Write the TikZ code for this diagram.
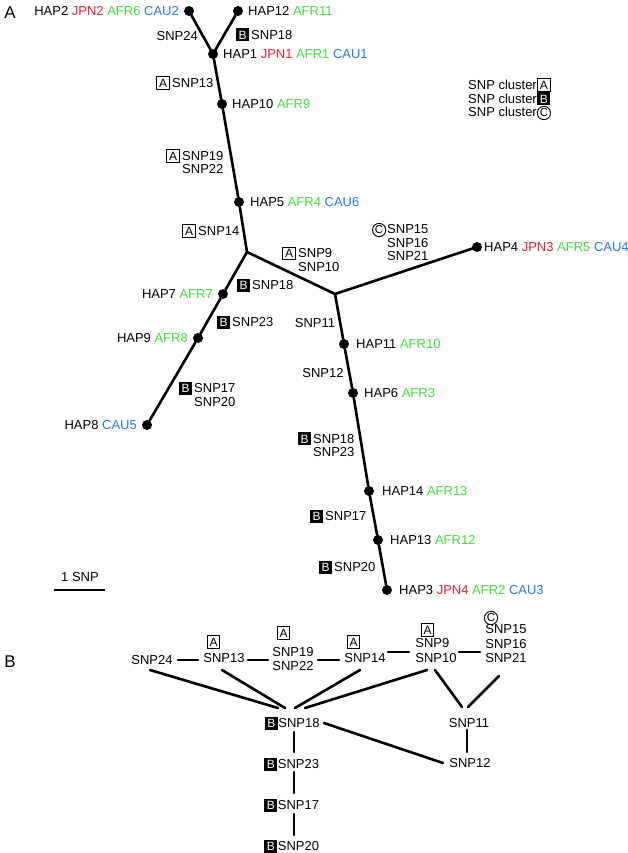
\documentclass[tikz,border=0pt]{standalone}
\usepackage{fontspec}
\setmainfont{Liberation Sans}
\usetikzlibrary{calc}
\definecolor{jpn}{RGB}{235,30,60}
\definecolor{afr}{RGB}{70,222,60}
\definecolor{cau}{RGB}{40,120,228}
\newcommand\J[1]{\textcolor{jpn}{#1}}
\newcommand\Af[1]{\textcolor{afr}{#1}}
\newcommand\Ca[1]{\textcolor{cau}{#1}}
\newcommand\mkA{\tikz[baseline=(mk.base)]\node[draw,line width=0.8pt,inner sep=0pt,minimum width=12.5pt,minimum height=12.5pt,font=\fontsize{12}{12}\selectfont](mk){A};}
\newcommand\mkB{\tikz[baseline=(mk.base)]\node[fill=black,text=white,inner sep=0pt,minimum width=13pt,minimum height=13pt,font=\fontsize{12}{12}\selectfont](mk){B};}
\newcommand\mkC{\tikz[baseline=(mk.base)]\node[draw,circle,line width=0.9pt,inner sep=0.6pt,font=\fontsize{11.5}{12}\selectfont](mk){C};}
\tikzset{
  dot/.style={circle,fill=black,inner sep=0pt,minimum size=10pt},
  lbl/.style={inner sep=0pt,font=\fontsize{13}{13.5}\selectfont,align=left},
  lblb/.style={inner sep=0pt,font=\fontsize{13}{14.5}\selectfont,align=left},
  link/.style={line width=2.6pt,line cap=round,line join=round},
  panel/.style={inner sep=0pt,font=\fontsize{17}{17}\selectfont},
}
\begin{document}
\begin{tikzpicture}[x=1pt,y=-1pt]
\useasboundingbox (0,0) rectangle (628,853);
% ---------- panel A ----------
\node[panel] (pA) at (10,13) {A};
\node[dot] (h2) at (189,11) {};
\node[dot] (h12) at (238,11) {};
\node[dot] (h1) at (213,54) {};
\node[dot] (h10) at (222,104) {};
\node[dot] (h5) at (239,202) {};
\coordinate (j1) at (247,252);
\coordinate (j2) at (335,294);
\node[dot] (h4) at (477,247) {};
\node[dot] (h7) at (223,294) {};
\node[dot] (h9) at (198,338) {};
\node[dot] (h8) at (147,425) {};
\node[dot] (h11) at (344,344) {};
\node[dot] (h6) at (353,393) {};
\node[dot] (h14) at (369,491) {};
\node[dot] (h13) at (378,540) {};
\node[dot] (h3) at (387,590) {};
\draw[link] (h2) -- (h1) -- (h12);
\draw[link] (h1) -- (h10) -- (h5) -- (j1);
\draw[link] (j1) -- (h7) -- (h9) -- (h8);
\draw[link] (j1) -- (j2) -- (h4);
\draw[link] (j2) -- (h11) -- (h6) -- (h14) -- (h13) -- (h3);
% haplotype labels
\node[lbl,anchor=east] (l2) at (179,11) {HAP2 \J{JPN2} \Af{AFR6} \Ca{CAU2}};
\node[lbl,anchor=west] (l12) at (248,11) {HAP12 \Af{AFR11}};
\node[lbl,anchor=west] (l1) at (223,54) {HAP1 \J{JPN1} \Af{AFR1} \Ca{CAU1}};
\node[lbl,anchor=west] (l10) at (232,104) {HAP10 \Af{AFR9}};
\node[lbl,anchor=west] (l5) at (250,202) {HAP5 \Af{AFR4} \Ca{CAU6}};
\node[lbl,anchor=west] (l4) at (484,247) {HAP4 \J{JPN3} \Af{AFR5} \Ca{CAU4}};
\node[lbl,anchor=east] (l7) at (213,294) {HAP7 \Af{AFR7}};
\node[lbl,anchor=east] (l9) at (188,338) {HAP9 \Af{AFR8}};
\node[lbl,anchor=east] (l8) at (137,425) {HAP8 \Ca{CAU5}};
\node[lbl,anchor=west] (l11) at (356,344) {HAP11 \Af{AFR10}};
\node[lbl,anchor=west] (l6) at (364,393) {HAP6 \Af{AFR3}};
\node[lbl,anchor=west] (l14) at (382,491) {HAP14 \Af{AFR13}};
\node[lbl,anchor=west] (l13) at (390,540) {HAP13 \Af{AFR12}};
\node[lbl,anchor=west] (l3) at (399,590) {HAP3 \J{JPN4} \Af{AFR2} \Ca{CAU3}};
% SNP labels
\node[lbl,anchor=east] (s24) at (198,36) {SNP24};
\node[lbl,anchor=west] (s18a) at (251,35) {\llap{\mkB\hspace{2pt}}SNP18};
\node[lbl,anchor=west] (s13) at (172,83) {\llap{\mkA\hspace{2.5pt}}SNP13};
\node[lbl,anchor=west] (s19) at (182,161.5) {\llap{\mkA\hspace{2.5pt}}SNP19\\SNP22};
\node[lbl,anchor=west] (s14) at (198,231) {\llap{\mkA\hspace{2.5pt}}SNP14};
\node[lbl,anchor=west] (s9) at (298,259) {\llap{\mkA\hspace{2.5pt}}SNP9\\SNP10};
\node[lbl,anchor=west] (s15) at (387,242) {\llap{\mkC\hspace{1pt}}SNP15\\SNP16\\SNP21};
\node[lbl,anchor=west] (s18b) at (252,285) {\llap{\mkB\hspace{2pt}}SNP18};
\node[lbl,anchor=west] (s23) at (232,322) {\llap{\mkB\hspace{2pt}}SNP23};
\node[lbl,anchor=west] (s17) at (194,394) {\llap{\mkB\hspace{2pt}}SNP17\\SNP20};
\node[lbl] (s11) at (315,323) {SNP11};
\node[lbl] (s12) at (323,373) {SNP12};
\node[lbl,anchor=west] (s18c) at (313,444.5) {\llap{\mkB\hspace{2pt}}SNP18\\SNP23};
\node[lbl,anchor=west] (s17b) at (325,516) {\llap{\mkB\hspace{2pt}}SNP17};
\node[lbl,anchor=west] (s20b) at (334,567) {\llap{\mkB\hspace{2pt}}SNP20};
% legend
\node[lbl,anchor=west] (kA) at (468,85) {SNP cluster\hspace{0.5pt}\mkA};
\node[lbl,anchor=west] (kB) at (468,99) {SNP cluster\hspace{0.5pt}\mkB};
\node[lbl,anchor=west] (kC) at (468,113) {SNP cluster\hspace{0pt}\mkC};
% scale bar
\node[lbl] (sc) at (80,577) {1 SNP};
\coordinate (sb1) at (54,590);
\coordinate (sb2) at (105,590);
\draw[line width=2.4pt] (sb1) -- (sb2);
% ---------- panel B ----------
\node[panel] (pB) at (10,662) {B};
\node[lbl] (b24) at (152,660) {SNP24};
\node[lbl] (b13) at (224,658) {SNP13};
\node[lbl] (m13) at (213.5,642) {\mkA};
\node[lblb] (b19) at (293,659) {SNP19\\SNP22};
\node[lbl] (m19) at (283.5,633) {\mkA};
\node[lbl] (b14) at (365,658) {SNP14};
\node[lbl] (m14) at (353.5,642) {\mkA};
\node[lblb] (b9) at (436,650.5) {SNP9\\SNP10};
\node[lbl] (m9) at (427.5,630) {\mkA};
\node[lblb] (b15) at (506,644) {SNP15\\SNP16\\SNP21};
\node[lbl] (m15) at (491,618) {\mkC};
\node[lbl] (b18) at (299,723) {\llap{\mkB\hspace{0.5pt}}SNP18};
\node[lbl] (b11) at (469,723) {SNP11};
\node[lbl] (b12) at (470,763) {SNP12};
\node[lbl] (b23) at (298.5,764) {\llap{\mkB\hspace{0.5pt}}SNP23};
\node[lbl] (b17) at (298.5,805) {\llap{\mkB\hspace{0.5pt}}SNP17};
\node[lbl] (b20) at (298.5,846) {\llap{\mkB\hspace{0.5pt}}SNP20};
% horizontal chain
\draw[link] ($(b24)+(26,0)$) -- ($(b13)+(-26,2)$);
\draw[link] ($(b13)+(24,2)$) -- ($(b19)+(-25,1)$);
\draw[link] ($(b19)+(25,1)$) -- ($(b14)+(-26,2)$);
\draw[link] ($(b14)+(23,-6)$) -- ($(b9)+(-27,1.5)$);
\draw[link] ($(b9)+(23,1.5)$) -- ($(b15)+(-26,8)$);
% to SNP18
\draw[link] ($(b24)+(-2,10)$) -- ($(b18)+(-21,-15)$);
\draw[link] ($(b13)+(-2,12)$) -- ($(b18)+(-14,-15)$);
\draw[link] ($(b14)+(-5,12)$) -- ($(b18)+(-4,-15)$);
\draw[link] ($(b9)+(-9,19.5)$) -- ($(b18)+(6,-15)$);
% to SNP11
\draw[link] ($(b9)+(-1,19.5)$) -- ($(b11)+(-7,-16)$);
\draw[link] ($(b15)+(-7,32)$) -- ($(b11)+(-1,-16)$);
\draw[link] ($(b11)+(-2,7)$) -- ($(b12)+(-3,-11)$);
\draw[link] ($(b18)+(25,0)$) -- ($(b12)+(-27,0)$);
% B chain
\draw[link] ($(b18)+(-5,9)$) -- ($(b23)+(-4.5,-12)$);
\draw[link] ($(b23)+(-4.5,8)$) -- ($(b17)+(-4.5,-12)$);
\draw[link] ($(b17)+(-4.5,9)$) -- ($(b20)+(-4.5,-11)$);
\end{tikzpicture}
\end{document}
